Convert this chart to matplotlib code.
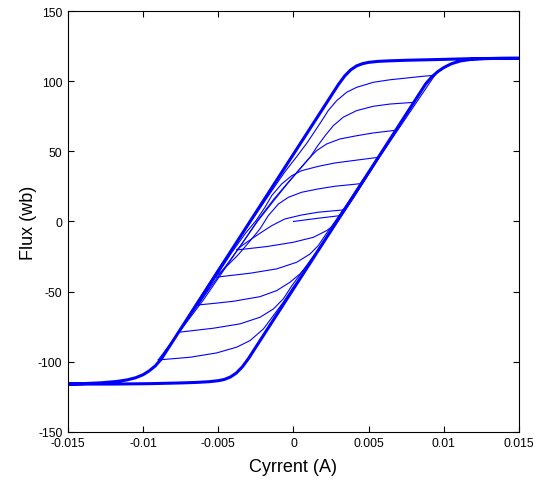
import matplotlib
matplotlib.use("Agg")
import matplotlib.pyplot as plt

plt.rcParams['font.family'] = ['Liberation Sans', 'DejaVu Sans']
plt.rcParams['axes.unicode_minus'] = False

# major loop (thick)
major_x = [0.015, 0.012, 0.0095, 0.0075, 0.0064, 0.0056, 0.0050, 0.0046, 0.0042, 0.0038, 0.0034, 0.0030,
           0.0, -0.0088, -0.0092, -0.0096, -0.0100, -0.0105, -0.0111, -0.0118, -0.0128, -0.0140, -0.015,
           -0.012, -0.0095, -0.0075, -0.0064, -0.0056, -0.0050, -0.0046, -0.0042, -0.0038, -0.0034, -0.0030,
           0.0, 0.0088, 0.0092, 0.0096, 0.0100, 0.0105, 0.0111, 0.0118, 0.0128, 0.0140, 0.015]
major_y = [116.3, 116.1, 115.4, 114.9, 114.5, 114.1, 113.4, 112.5, 110.9, 108.0, 103.6, 97.8,
           48.0, -98.1, -103.0, -106.5, -109.2, -111.4, -113.0, -114.1, -115.0, -115.6, -115.9,
           -115.9, -115.6, -115.1, -114.7, -114.2, -113.5, -112.6, -110.9, -108.0, -103.6, -97.8,
           -48.0, 98.1, 103.0, 106.8, 109.7, 112.4, 114.4, 115.5, 116.1, 116.3, 116.3]

# initial magnetisation curve
init_x = [0.0, 0.0015, 0.00305, 0.0033]
init_y = [0.0, 2.1, 4.1, 8.2]

# descending branches (from right tips)
d1_x = [0.0033, 0.00165, 0.00054, -0.00057, -0.00145, -0.0021, -0.0028, -0.0034, -0.00378]
d1_y = [8.2, 6.6, 4.6, 1.8, -3.0, -7.5, -12.5, -17.0, -20.3]
d2_x = [0.00452, 0.00276, 0.00165, 0.00054, -0.00034, -0.001, -0.00168, -0.00223, -0.0029, -0.0037, -0.0045, -0.00522]
d2_y = [27.0, 25.1, 23.2, 20.8, 17.2, 12.5, 4.1, -5.3, -14.0, -24.0, -32.5, -39.8]
d3_x = [0.00564, 0.00476, 0.00276, 0.00165, 0.00054, -0.00012, -0.00079, -0.00145, -0.0019, -0.0025, -0.0032,
        -0.0041, -0.0052, -0.00633]
d3_y = [45.7, 44.5, 41.7, 39.3, 36.2, 32.6, 26.7, 18.4, 10.1, 0.5, -8.5, -22.0, -40.0, -59.5]
d4_x = [0.0068, 0.00531, 0.0042, 0.00309, 0.0022, 0.00154, 0.00099, 0.0003, -0.0005, -0.0013, -0.0023, -0.0035,
        -0.0052, -0.00766]
d4_y = [65.0, 63.1, 61.1, 58.8, 55.2, 50.5, 44.5, 36.0, 26.0, 16.0, 2.0, -17.0, -42.0, -79.0]
d5_x = [0.008, 0.00642, 0.00531, 0.0042, 0.00331, 0.00265, 0.0021, 0.00154, 0.0011, 0.0004, -0.0004, -0.0013,
        -0.0024, -0.0037, -0.006, -0.009]
d5_y = [84.9, 83.7, 82.1, 79.0, 74.3, 68.3, 61.1, 52.9, 45.7, 37.0, 27.0, 15.0, 0.0, -20.0, -56.0, -98.7]
d6_x = [0.0094, 0.00863, 0.00642, 0.00531, 0.0042, 0.00354, 0.00287, 0.00231, 0.00188, 0.0014, 0.0009, 0.0002,
        -0.0006, -0.0015, -0.0027, -0.005, -0.0088]
d6_y = [104.2, 103.5, 101.0, 99.2, 95.6, 92.1, 86.1, 79.0, 71.8, 64.0, 56.0, 46.0, 35.0, 21.0, 2.0, -34.0, -98.1]

# ascending branches (from left tips)
a1_x = [-0.00378, -0.00178, 0.0, 0.00132, 0.00221, 0.00265, 0.0030, 0.0037, 0.00452]
a1_y = [-20.3, -17.9, -14.8, -11.3, -6.5, -3.0, 3.0, 14.0, 27.0]
a2_x = [-0.00522, -0.00289, -0.00112, 0.00021, 0.0011, 0.00165, 0.0021, 0.0027, 0.0036, 0.0047, 0.00564]
a2_y = [-39.8, -36.9, -33.8, -29.1, -23.2, -17.2, -10.0, -1.0, 13.0, 31.0, 45.7]
a3_x = [-0.00633, -0.0052, -0.004, -0.00223, -0.00112, -0.00023, 0.00043, 0.0011, 0.0016, 0.0023, 0.0035,
        0.0052, 0.0068]
a3_y = [-59.5, -58.3, -56.9, -53.6, -49.3, -43.3, -37.4, -29.1, -21.0, -10.0, 9.0, 37.0, 65.0]
a4_x = [-0.00766, -0.00533, -0.00356, -0.00223, -0.00134, -0.00068, -0.0001, 0.0005, 0.0014, 0.004, 0.008]
a4_y = [-79.0, -76.1, -73.0, -68.3, -62.4, -55.2, -45.7, -37.0, -23.5, 17.0, 84.9]
a5_x = [-0.009, -0.00688, -0.00511, -0.00378, -0.00289, -0.002, -0.00134, -0.00068, 0.0, 0.0006, 0.004, 0.0094]
a5_y = [-98.7, -96.8, -93.7, -89.6, -84.9, -76.6, -67.1, -57.6, -46.5, -38.0, 18.5, 104.2]

minor = [(init_x, init_y), (d1_x, d1_y), (a1_x, a1_y), (d2_x, d2_y), (a2_x, a2_y),
         (d3_x, d3_y), (a3_x, a3_y), (d4_x, d4_y), (a4_x, a4_y), (d5_x, d5_y),
         (a5_x, a5_y), (d6_x, d6_y)]

xticks = [-0.015, -0.01, -0.005, 0, 0.005, 0.01, 0.015]
xlabels = ['-0.015', '-0.01', '-0.005', '0', '0.005', '0.01', '0.015']
yticks = [-150, -100, -50, 0, 50, 100, 150]

fig = plt.figure(figsize=(5.4, 4.81), dpi=100)
ax = fig.add_axes([0.126, 0.1, 0.835, 0.875])

for bx, by in minor:
    ax.plot(bx, by, color='#0000ff', lw=0.8, solid_joinstyle='round')
ax.plot(major_x, major_y, color='#0000ff', lw=2.2, solid_joinstyle='round')

ax.set_xlim(-0.015, 0.015)
ax.set_ylim(-150, 150)
ax.set_xticks(xticks)
ax.set_xticklabels(xlabels)
ax.set_yticks(yticks)
ax.tick_params(direction='in', top=True, right=True, length=4, labelsize=8.8, pad=4)
for s in ax.spines.values():
    s.set_linewidth(0.8)
ax.set_xlabel('Cyrrent (A)', fontsize=13, labelpad=6)
ax.set_ylabel('Flux (wb)', fontsize=13, labelpad=1)

fig.savefig('out.png', dpi=100)
